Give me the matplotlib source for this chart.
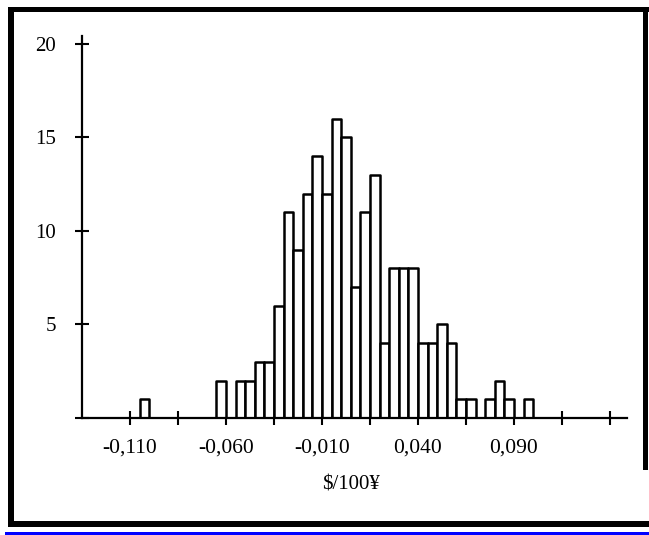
"""Histogram of daily $/100¥ changes, boxed figure with serif labels."""
import numpy as np
import matplotlib
matplotlib.use("Agg")
import matplotlib.pyplot as plt
from matplotlib.patches import Rectangle
from matplotlib.ticker import FixedLocator, FixedFormatter

# bin left edges (width 0.005) and counts
bin_width = 0.005
bin_left = np.round(np.arange(-0.105, 0.0951, bin_width), 3)
counts = [1, 0, 0, 0, 0, 0, 0, 0, 2, 0, 2, 2, 3, 3, 6, 11, 9, 12, 14, 12,
          16, 15, 7, 11, 13, 4, 8, 8, 8, 4, 4, 5, 4, 1, 1, 0, 1, 2, 1, 0, 1]

x_ticks = [-0.110, -0.085, -0.060, -0.035, -0.010, 0.015, 0.040, 0.065,
           0.090, 0.115, 0.140]
x_tick_labels = ["-0,110", "", "-0,060", "", "-0,010", "", "0,040", "",
                 "0,090", "", ""]
y_ticks = [0, 5, 10, 15, 20]
y_tick_labels = ["", "5", "10", "15", "20"]
x_label = "$/100¥"

W, H = 649, 535
plt.rcParams["font.family"] = ["Liberation Serif", "DejaVu Serif"]

fig = plt.figure(figsize=(W / 100, H / 100), dpi=100)

# axes box in pixel terms: y-axis at x=82, baseline at y=418
x0_px, x1_px = 82, 627
y_base_px, y_top_px = 418, 36.5
ax = fig.add_axes([x0_px / W, (H - y_base_px) / H,
                   (x1_px - x0_px) / W, (y_base_px - y_top_px) / H])

ax.bar(bin_left, counts, width=bin_width, align="edge", facecolor="white",
       edgecolor="black", linewidth=1.8, joinstyle="round", zorder=3)

ax.set_xlim(-0.135, -0.135 + (x1_px - x0_px) / 1920)
ax.set_ylim(0, 20.4)

for s in ("top", "right"):
    ax.spines[s].set_visible(False)
for s in ("left", "bottom"):
    ax.spines[s].set_linewidth(1.6)
    ax.spines[s].set_zorder(4)

ax.xaxis.set_major_locator(FixedLocator(x_ticks))
ax.xaxis.set_major_formatter(FixedFormatter(x_tick_labels))
ax.yaxis.set_major_locator(FixedLocator(y_ticks))
ax.yaxis.set_major_formatter(FixedFormatter(y_tick_labels))
ax.tick_params(axis="both", direction="inout", length=9.5, width=1.5,
               colors="black")
ax.tick_params(axis="y", pad=14, labelsize=15)
ax.tick_params(axis="x", pad=10, labelsize=15.5)

fig.text(351 / W, 1 - 485 / H, x_label, fontsize=15, ha="center",
         va="center")

# heavy outer frame plus the blue rule underneath
def px_rect(x, y, w, h, color):
    fig.patches.append(Rectangle((x / W, 1 - (y + h) / H), w / W, h / H,
                                 transform=fig.transFigure, facecolor=color,
                                 edgecolor="none"))

px_rect(8, 7, 641, 5, "black")      # top
px_rect(8, 7, 6, 520, "black")      # left
px_rect(8, 521, 641, 6, "black")    # bottom
px_rect(643, 7, 5, 463, "black")    # right
px_rect(5, 531.5, 644, 3.5, "#0000ff")

fig.savefig("out.png", dpi=100)
